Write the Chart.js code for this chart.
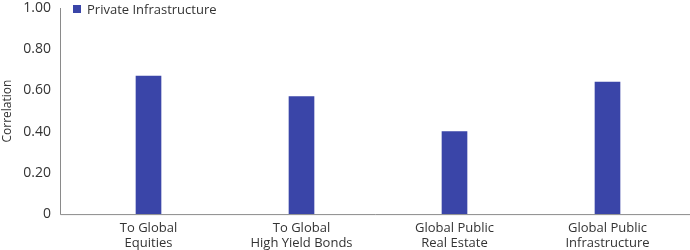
<!DOCTYPE html>
<html>
<head>
<meta charset="utf-8">
<script src="https://cdn.jsdelivr.net/npm/chart.js@4"></script>
<style>
  body { margin: 0; background: #fff; }
  #wrap { position: relative; width: 690px; height: 250px; }
  #legend { position: absolute; left: 73px; top: 0px; font: 13px "Open Sans", sans-serif; color: #333; display: flex; align-items: center; }
  #legend span.box { display: inline-block; width: 8px; height: 8px; margin-right: 6px; }
</style>
</head>
<body>
<div id="wrap">
  <canvas id="chart" width="690" height="250"></canvas>
  <div id="legend"></div>
</div>
<script>
const categories = [
    ['To Global', 'Equities'],
    ['To Global', 'High Yield Bonds'],
    ['Global Public', 'Real Estate'],
    ['Global Public', 'Infrastructure']
];
const seriesName = 'Private Infrastructure';
const correlations = [0.67, 0.57, 0.40, 0.64];
const yTicks = [0, 0.2, 0.4, 0.6, 0.8, 1.0];
const barColor = '#3a45a8';
const axisColor = '#8a8a8a';

document.getElementById('legend').innerHTML =
    `<span class="box" style="background:${barColor}"></span>${seriesName}`;

// y axis line sits a little left of the first category, as in the original
const axisGap = 12;
const axisLines = {
    id: 'axisLines',
    afterDraw(chart) {
        const { ctx, chartArea } = chart;
        const x0 = chartArea.left - axisGap;
        ctx.save();
        ctx.strokeStyle = axisColor;
        ctx.lineWidth = 1;
        ctx.beginPath();
        ctx.moveTo(x0 + 0.5, chartArea.top);
        ctx.lineTo(x0 + 0.5, chartArea.bottom + 0.5);
        ctx.lineTo(chartArea.right + 6, chartArea.bottom + 0.5);
        ctx.stroke();
        ctx.restore();
    }
};

new Chart(document.getElementById('chart').getContext('2d'), {
    type: 'bar',
    data: {
        labels: categories,
        datasets: [{
            label: seriesName,
            data: correlations,
            backgroundColor: barColor,
            barThickness: 25
        }]
    },
    options: {
        responsive: false,
        animation: false,
        layout: { padding: { top: 0, left: 0, bottom: -8, right: 6 } },
        plugins: {
            legend: { display: false },
            tooltip: { enabled: false }
        },
        scales: {
            x: {
                grid: { display: false, drawTicks: false },
                border: { display: false },
                ticks: {
                    color: '#333',
                    font: { family: '"Open Sans", sans-serif', size: 13, lineHeight: 1.15 },
                    padding: 7,
                    maxRotation: 0
                }
            },
            y: {
                min: 0,
                max: 1,
                afterBuildTicks: scale => { scale.ticks = yTicks.map(v => ({ value: v })); },
                afterFit: scale => {
                    scale.width = 72;
                    scale.paddingTop = 8;
                    scale.paddingBottom = 0;
                },
                grid: { display: false, drawTicks: false },
                border: { display: false },
                ticks: {
                    color: '#333',
                    font: { family: '"Open Sans", sans-serif', size: 14 },
                    padding: 21,
                    callback: v => v === 0 ? '0' : v.toFixed(2)
                },
                title: {
                    display: true,
                    text: 'Correlation',
                    color: '#333',
                    font: { family: '"Open Sans", sans-serif', size: 12 },
                    padding: { top: 0, bottom: 4 }
                }
            }
        }
    },
    plugins: [axisLines]
});
</script>
</body>
</html>
